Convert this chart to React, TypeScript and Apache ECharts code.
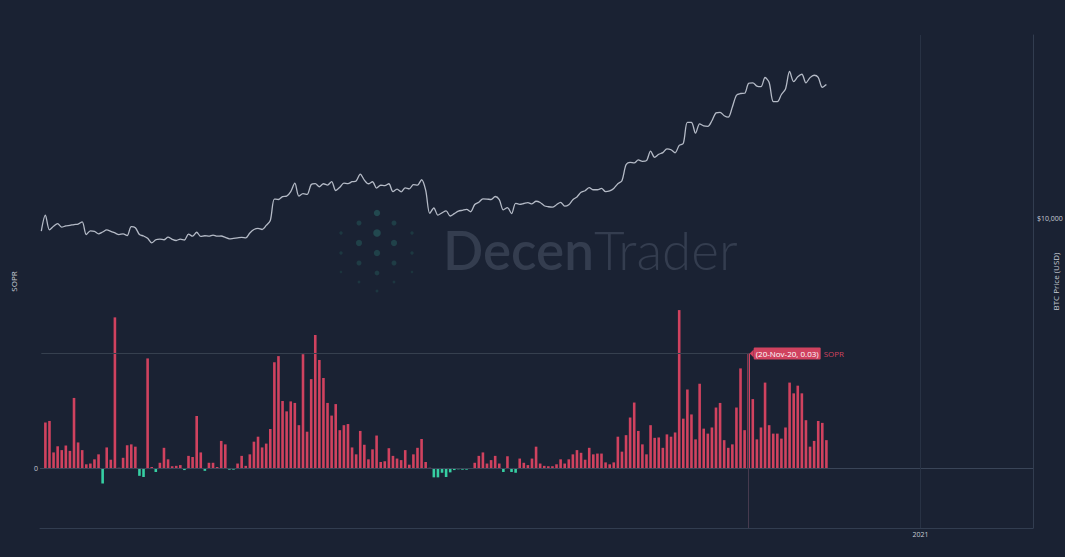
import React, { useEffect, useRef } from "react";
import * as echarts from "echarts";

// ---------- data ----------
// BTC daily price, from 31 May 2020 to 9 Dec 2020
const priceMay = [9450];
const priceJun = [10170, 9500, 9660, 9780, 9620, 9680, 9700, 9740, 9760, 9860, 9300, 9460, 9440, 9330, 9410, 9500, 9440, 9370, 9300, 9330, 9260, 9650, 9600, 9300, 9240, 9140, 8950, 9080, 9110, 9080];
const priceJul = [9190, 9100, 9050, 9110, 9070, 9320, 9230, 9400, 9220, 9250, 9230, 9280, 9230, 9240, 9180, 9120, 9140, 9160, 9180, 9160, 9370, 9520, 9570, 9520, 9700, 9920, 10950, 10930, 11080, 11100, 11330];
const priceAug = [11780, 11100, 11230, 11190, 11710, 11760, 11590, 11750, 11680, 11870, 11390, 11560, 11780, 11760, 11860, 11900, 12280, 11950, 11750, 11860, 11520, 11670, 11650, 11750, 11330, 11460, 11320, 11530, 11480, 11700, 11680];
const priceSep = [11970, 11410, 10250, 10510, 10170, 10280, 10370, 10130, 10240, 10360, 10400, 10440, 10330, 10680, 10790, 10960, 10950, 10930, 11080, 10920, 10420, 10530, 10240, 10740, 10690, 10730, 10770, 10710, 10840, 10780];
const priceOct = [10620, 10570, 10550, 10670, 10790, 10600, 10670, 10920, 11060, 11300, 11380, 11540, 11430, 11430, 11500, 11330, 11370, 11500, 11750, 11920, 12820, 12970, 12930, 13110, 13030, 13070, 13650, 13270, 13460, 13560, 13800];
const priceNov = [13740, 13550, 14020, 14150, 15590, 15580, 14830, 15480, 15330, 15300, 15700, 16280, 16320, 16070, 15960, 16730, 17660, 17800, 17820, 18660, 18700, 18420, 18370, 19160, 18730, 17150, 17140, 17720, 18180, 19700];
const priceDec = [18800, 19220, 19450, 18700, 19150, 19360, 19170, 18320, 18550];

// SOPR daily bars, from 1 Jun 2020 to 9 Dec 2020
const soprJun = [0.012, 0.0124, 0.0042, 0.0058, 0.0048, 0.006, 0.0046, 0.0184, 0.0068, 0.0048, 0.0011, 0.0013, 0.0024, 0.0037, -0.0039, 0.0055, 0.0023, 0.0394, 0.0002, 0.0028, 0.0061, 0.0063, 0.0057, -0.0019, -0.0022, 0.0287, 0.0004, -0.0009, 0.0015, 0.0054];
const soprJul = [0.0024, 0.0006, 0.0007, 0.0009, -0.0004, 0.0033, 0.003, 0.0137, 0.0042, -0.0006, 0.0015, 0.0015, 0.0004, 0.0072, 0.0063, -0.0003, -0.0003, 0.0013, 0.0033, 0.0007, 0.0037, 0.007, 0.0083, 0.0055, 0.0065, 0.0103, 0.0277, 0.0293, 0.0176, 0.0149, 0.0175];
const soprAug = [0.0171, 0.0113, 0.0298, 0.0096, 0.0233, 0.0348, 0.0283, 0.0236, 0.0171, 0.0138, 0.0168, 0.01, 0.0113, 0.0116, 0.0055, 0.0037, 0.0098, 0.0062, 0.0024, 0.005, 0.0086, 0.0017, 0.0019, 0.0053, 0.0033, 0.0026, 0.0022, 0.0048, 0.001, 0.0037, 0.0054];
const soprSep = [0.0077, 0.0017, 0.0002, -0.0023, -0.0023, -0.0011, -0.0022, -0.001, -0.0004, -0.0002, -0.0003, -0.0003, 0.0001, 0.0015, 0.0033, 0.0042, 0.0013, 0.0022, 0.0033, 0.0013, -0.0009, 0.0032, -0.0009, -0.0011, 0.0026, 0.0015, 0.0009, 0.0026, 0.0057, 0.0013];
const soprOct = [0.0007, 0.0006, 0.0006, 0.0011, 0.0024, 0.0013, 0.0024, 0.0037, 0.0048, 0.0041, 0.0023, 0.0054, 0.0037, 0.0039, 0.0039, 0.0016, 0.0011, 0.0016, 0.0083, 0.0044, 0.0087, 0.0133, 0.0172, 0.0098, 0.0063, 0.0037, 0.0113, 0.008, 0.0081, 0.0054, 0.0089];
const soprNov = [0.0083, 0.0094, 0.0413, 0.013, 0.0206, 0.0141, 0.0076, 0.0221, 0.0104, 0.0091, 0.0107, 0.0159, 0.0171, 0.0074, 0.0054, 0.0063, 0.0159, 0.0261, 0.01, 0.03, 0.0181, 0.0076, 0.0107, 0.0224, 0.0113, 0.0091, 0.0091, 0.0078, 0.0107, 0.0224];
const soprDec = [0.0196, 0.0216, 0.0196, 0.0126, 0.0057, 0.0072, 0.0124, 0.0119, 0.0074];

// tick labels / annotations
const leftTickLabels = ["0"];
const rightTickLabels = ["$10,000"];
const xTickLabels = ["2021"];
const hoverLabel = "20-Nov-20";
const hoverValue = 0.03;

const priceValues = [...priceMay, ...priceJun, ...priceJul, ...priceAug, ...priceSep, ...priceOct, ...priceNov, ...priceDec];
const soprValues = [...soprJun, ...soprJul, ...soprAug, ...soprSep, ...soprOct, ...soprNov, ...soprDec];

const priceDates = priceValues.map((_, i) => new Date(2020, 4, 31 + i).getTime());
const soprDates = soprValues.map((_, i) => new Date(2020, 5, 1 + i).getTime());

const xMin = new Date(2020, 4, 31, 0, 0).getTime();
const xMax = new Date(2021, 0, 28, 5, 0).getTime();
const yearTick = new Date(2021, 0, 1).getTime();
const hoverDate = new Date(2020, 10, 20).getTime();

const SOPR_MIN = -0.0155;
const SOPR_MAX = 0.113;

const BG = "#1a2233";
const RED = "#d0425f";
const TEAL = "#36cfa3";
const LINE = "#323d50";
const TEXT = "#c6cbd3";

const logoDots: [number, number, number, string][] = [
  [377, 213, 3.2, "#22484f"],
  [377, 233, 3.8, "#22484f"],
  [377, 253, 3.2, "#204149"],
  [377, 273, 2.4, "#1f3c45"],
  [377, 291, 1.5, "#1d3640"],
  [359, 223, 2.5, "#1f3e47"],
  [394, 223, 2.5, "#1f3e47"],
  [359, 243, 3.1, "#204149"],
  [394, 243, 3.1, "#204149"],
  [359, 263, 2.5, "#1f3c45"],
  [394, 263, 2.5, "#1f3c45"],
  [359, 282, 1.4, "#1d3640"],
  [394, 282, 1.4, "#1d3640"],
  [341, 233, 1.7, "#1d3841"],
  [412, 233, 1.7, "#1d3841"],
  [341, 253, 1.7, "#1d3841"],
  [412, 253, 1.7, "#1d3841"],
  [341, 272, 1.3, "#1c343d"],
  [412, 272, 1.3, "#1c343d"],
];

export default function App() {
  const ref = useRef<HTMLDivElement>(null);
  useEffect(() => {
    if (!ref.current) return;
    const chart = echarts.init(ref.current, null, { renderer: "svg" });
    const option: any = {
      animation: false,
      backgroundColor: BG,
      textStyle: { fontFamily: "Open Sans" },
      grid: { left: 40, right: 32, top: 35, bottom: 29, containLabel: false, outerBoundsMode: "none" },
      graphic: [
        ...logoDots.map(([x, y, r, c]) => ({
          type: "circle",
          z: -10,
          silent: true,
          shape: { cx: x, cy: y, r },
          style: { fill: c },
        })),
        {
          type: "text",
          z: -10,
          silent: true,
          x: 443,
          y: 249,
          style: {
            text: "{a|Decen}{b|Trader}",
            verticalAlign: "middle",
            rich: {
              a: { fontSize: 53, fontWeight: 600, fontFamily: "Lato", fill: "#343d4f" },
              b: { fontSize: 53, fontWeight: 300, fontFamily: "Lato", fill: "#343d4f" },
            },
          },
        },
      ],
      xAxis: {
        type: "time",
        min: xMin,
        max: xMax,
        axisLine: { show: true, onZero: false, lineStyle: { color: LINE, width: 1 } },
        axisTick: { show: false },
        axisLabel: { show: false },
        splitLine: { show: false },
      },
      yAxis: [
        {
          type: "value",
          min: SOPR_MIN,
          max: SOPR_MAX,
          name: "SOPR",
          nameLocation: "middle",
          nameRotate: 90,
          nameGap: 23,
          nameMoveOverlap: false,
          nameTextStyle: { color: TEXT, fontSize: 8, fontFamily: "Open Sans" },
          axisLine: { show: false },
          axisTick: { show: false },
          splitLine: { show: false },
          axisLabel: {
            color: TEXT,
            fontSize: 7,
            margin: 2,
            formatter: (v: number) => (Math.abs(v) < 1e-9 ? leftTickLabels[0] : ""),
          },
        },
        {
          type: "log",
          logBase: 10,
          min: 2410,
          max: 23300,
          position: "right",
          name: "BTC Price (USD)",
          nameLocation: "middle",
          nameRotate: 90,
          nameGap: 18,
          nameMoveOverlap: false,
          nameTextStyle: { color: TEXT, fontSize: 8, fontFamily: "Open Sans" },
          axisLine: { show: true, lineStyle: { color: LINE, width: 1 } },
          axisTick: { show: false },
          splitLine: { show: false },
          axisLabel: {
            color: TEXT,
            fontSize: 7,
            margin: 4,
            formatter: (v: number) => (Math.abs(v - 10000) < 1 ? rightTickLabels[0] : ""),
          },
        },
      ],
      series: [
        {
          name: "BTC Price",
          type: "line",
          yAxisIndex: 1,
          data: priceDates.map((d, i) => [d, priceValues[i]]),
          showSymbol: false,
          smooth: 0.3,
          z: 3,
          lineStyle: { color: "#b4bac6", width: 1.3 },
        },
        {
          name: "SOPR",
          type: "bar",
          yAxisIndex: 0,
          barWidth: 2.6,
          data: soprDates.map((d, i) => [d, soprValues[i]]),
          itemStyle: {
            color: (p: any) => (p.value[1] < 0 ? TEAL : RED),
          },
          markLine: {
            silent: true,
            symbol: ["none", "none"],
            label: { show: false },
            data: [
              { yAxis: 0, lineStyle: { color: "#3a4558", width: 1, type: "solid" } },
              {
                xAxis: yearTick,
                lineStyle: { color: "#283244", width: 1, type: "solid" },
                label: {
                  show: true,
                  position: "start",
                  distance: 3,
                  formatter: xTickLabels[0],
                  color: TEXT,
                  fontSize: 7,
                  fontFamily: "Open Sans",
                },
              },
              [
                { coord: [xMin, hoverValue], lineStyle: { color: "#36404f", width: 1, type: "solid" } },
                { coord: [hoverDate, hoverValue] },
              ],
              [
                { coord: [hoverDate, hoverValue], lineStyle: { color: "#463a4e", width: 1, type: "solid" } },
                { coord: [hoverDate, SOPR_MIN] },
              ],
            ],
          },
          markPoint: {
            silent: true,
            data: [
              {
                coord: [hoverDate, hoverValue],
                symbol: "path://M0,5L6,0L6,10Z",
                symbolSize: [4, 8],
                symbolOffset: [3, 0],
                itemStyle: { color: RED },
                label: {
                  show: true,
                  position: "right",
                  distance: 0,
                  formatter: `{b|(${hoverLabel}, ${hoverValue.toFixed(2)})}{n|SOPR}`,
                  rich: {
                    b: {
                      backgroundColor: RED,
                      color: "#ffffff",
                      fontSize: 8,
                      fontFamily: "Open Sans",
                      padding: [2, 2, 2, 2],
                      borderRadius: 1,
                    },
                    n: { color: RED, fontSize: 8, fontFamily: "Open Sans", padding: [0, 0, 0, 3] },
                  },
                },
              },
            ],
          },
        },
      ],
    };
    chart.setOption(option);
    return () => chart.dispose();
  }, []);
  return (
    <div
      ref={ref}
      style={{ position: "fixed", left: 0, top: 0, width: 1065, height: 557 }}
    />
  );
}
